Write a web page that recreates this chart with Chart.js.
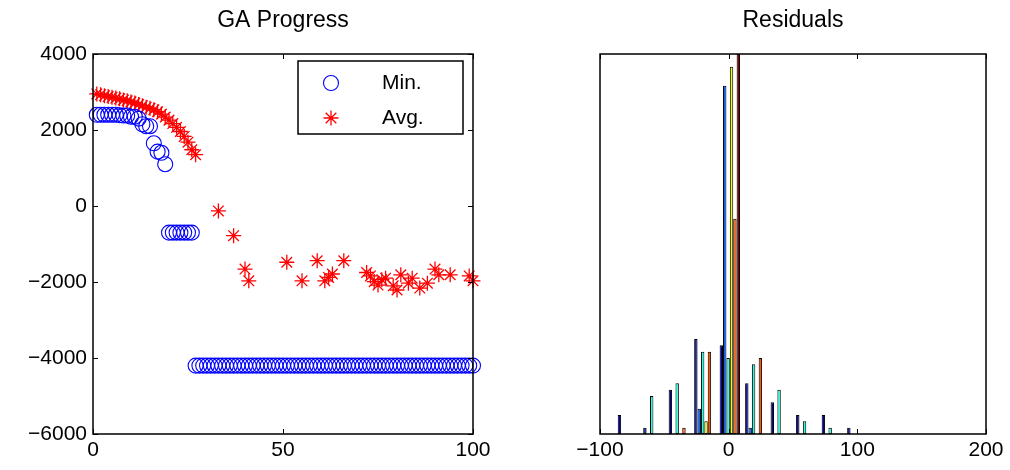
<!DOCTYPE html>
<html>
<head>
<meta charset="utf-8">
<script src="https://cdn.jsdelivr.net/npm/chart.js@4/dist/chart.umd.min.js"></script>
<style>
  body { margin: 0; background: #fff; }
  .box { position: absolute; top: 0; width: 505px; height: 470px; }
</style>
</head>
<body>
<div class="box" style="left:0"><canvas id="gaChart"></canvas></div>
<div class="box" style="left:505px"><canvas id="resChart"></canvas></div>
<script>
// GA progress: best (Min.) for generations 1..100
const minVals = [
  2400, 2400, 2400, 2400, 2400, 2400, 2390, 2380, 2380, 2350,
  2350, 2300, 2150, 2100, 2100, 1650, 1430, 1400, 1100, -700,
  -700, -700, -700, -700, -700, -700, -4200, -4200, -4200, -4200,
  -4200, -4200, -4200, -4200, -4200, -4200, -4200, -4200, -4200, -4200,
  -4200, -4200, -4200, -4200, -4200, -4200, -4200, -4200, -4200, -4200,
  -4200, -4200, -4200, -4200, -4200, -4200, -4200, -4200, -4200, -4200,
  -4200, -4200, -4200, -4200, -4200, -4200, -4200, -4200, -4200, -4200,
  -4200, -4200, -4200, -4200, -4200, -4200, -4200, -4200, -4200, -4200,
  -4200, -4200, -4200, -4200, -4200, -4200, -4200, -4200, -4200, -4200,
  -4200, -4200, -4200, -4200, -4200, -4200, -4200, -4200, -4200, -4200
];

// Avg. values that fall inside the plotted range
const avgGen = [
  1, 2, 3, 4, 5, 6, 7, 8, 9, 10, 11, 12, 13, 14, 15, 16, 17, 18, 19, 20,
  21, 22, 23, 24, 25, 26, 27, 33, 37, 40, 41, 51, 55, 59, 61, 62, 63, 66,
  72, 73, 74, 75, 76, 77, 79, 80, 81, 83, 84, 86, 88, 90, 91, 94, 99, 100
];
const avgVals = [
  2950, 2930, 2900, 2880, 2860, 2840, 2820, 2790, 2770, 2740,
  2710, 2670, 2640, 2600, 2570, 2530, 2480, 2420, 2340, 2260,
  2170, 2070, 1960, 1830, 1680, 1480, 1350, -130, -780, -1660,
  -1970, -1480, -1970, -1440, -1970, -1880, -1790, -1440,
  -1750, -1840, -1990, -2080, -1940, -1900, -2100, -2210, -1810, -2030,
  -1900, -2160, -2030, -1660, -1810, -1810, -1840, -1970
];

// Residuals histogram: 10 bins, 6 columns
const binCenters = [-78.3, -58.5, -38.7, -18.9, 0.9, 20.7, 40.5, 60.3, 80.2, 100.0];
const resCol1 = [3, 1, 7, 15, 14, 8, 5, 3, 3, 1];
const resCol2 = [0, 0, 0, 4, 55, 1, 0, 0, 0, 0];
const resCol3 = [0, 6, 8, 13, 12, 11, 7, 2, 1, 0];
const resCol4 = [0, 0, 0, 2, 58, 0, 0, 0, 0, 0];
const resCol5 = [0, 0, 1, 13, 34, 12, 0, 0, 0, 0];
const resCol6 = [0, 0, 0, 0, 60, 0, 0, 0, 0, 0];
const resColors = ["#000090", "#0060ff", "#20ffdf", "#efff10", "#ff5000", "#800000"];

const FONT = "'Liberation Sans', Arial, sans-serif";
const minus = v => String(v).replace("-", "\u2212");

// axes box with inward ticks, like the original
const frame = {
  id: "frame",
  afterDraw(chart, args, opts) {
    const { ctx, chartArea: a, scales } = chart;
    const len = 5;
    ctx.save();
    ctx.strokeStyle = "#000";
    ctx.lineWidth = 1;
    ctx.beginPath();
    scales.x.ticks.forEach(t => {
      const px = Math.round(scales.x.getPixelForValue(t.value)) + 0.5;
      ctx.moveTo(px, a.bottom); ctx.lineTo(px, a.bottom - len);
      ctx.moveTo(px, a.top); ctx.lineTo(px, a.top + len);
    });
    if (opts.yTicks) {
      scales.y.ticks.forEach(t => {
        const py = Math.round(scales.y.getPixelForValue(t.value)) + 0.5;
        ctx.moveTo(a.left, py); ctx.lineTo(a.left + len, py);
        ctx.moveTo(a.right, py); ctx.lineTo(a.right - len, py);
      });
    }
    ctx.stroke();
    ctx.lineWidth = 1.5;
    ctx.strokeRect(a.left, a.top, a.right - a.left, a.bottom - a.top);
    ctx.restore();
  }
};

// legend box inside the plot (top right)
const insideLegend = {
  id: "insideLegend",
  afterDraw(chart) {
    const { ctx, chartArea: a } = chart;
    const x0 = a.right - 175, y0 = a.top + 7, w = 165, h = 73;
    ctx.save();
    ctx.fillStyle = "#fff";
    ctx.fillRect(x0, y0, w, h);
    ctx.strokeStyle = "#000";
    ctx.lineWidth = 1.5;
    ctx.strokeRect(x0, y0, w, h);
    chart.data.datasets.forEach((ds, i) => {
      const y = y0 + 22 + i * 35;
      ctx.strokeStyle = ds.borderColor;
      ctx.fillStyle = "rgba(0,0,0,0)";
      ctx.lineWidth = ds.borderWidth;
      Chart.helpers.drawPoint(ctx, { pointStyle: ds.pointStyle, radius: ds.pointRadius, rotation: 0, borderWidth: ds.borderWidth }, x0 + 33, y);
      ctx.fillStyle = "#000";
      ctx.font = "21px " + FONT;
      ctx.textBaseline = "middle";
      ctx.fillText(ds.label, x0 + 84, y);
    });
    ctx.restore();
  }
};

document.addEventListener("DOMContentLoaded", function () {
  const titleOpts = text => ({
    display: true, text, color: "#000", fullSize: false,
    font: { family: FONT, size: 23, weight: "normal" },
    padding: { top: 7, bottom: 19.4 }
  });

  new Chart(document.getElementById("gaChart"), {
    type: "scatter",
    data: {
      datasets: [
        {
          label: "Min.",
          data: minVals.map((v, i) => ({ x: i + 1, y: v })),
          pointStyle: "circle", pointRadius: 7.5,
          borderColor: "#0000ff", backgroundColor: "rgba(0,0,0,0)", borderWidth: 1.1,
          clip: false
        },
        {
          label: "Avg.",
          data: avgGen.map((g, i) => ({ x: g, y: avgVals[i] })),
          pointStyle: "star", pointRadius: 7.5,
          borderColor: "#ff0000", backgroundColor: "#ff0000", borderWidth: 1.3,
          clip: false
        }
      ]
    },
    options: {
      responsive: true, maintainAspectRatio: false, animation: false,
      layout: { padding: { left: 0, right: 32, top: 0, bottom: 0 } },
      plugins: { legend: { display: false }, tooltip: { enabled: false }, title: titleOpts("GA Progress"), frame: { yTicks: true } },
      scales: {
        x: {
          type: "linear", min: 0, max: 100,
          ticks: { stepSize: 50, color: "#000", padding: 4, font: { family: FONT, size: 21 }, callback: minus, maxRotation: 0 },
          grid: { display: false, drawTicks: false }, border: { display: false },
          afterFit: s => { s.height = 36; }
        },
        y: {
          min: -6000, max: 4000,
          ticks: { stepSize: 2000, color: "#000", padding: 6, font: { family: FONT, size: 21 }, callback: minus },
          grid: { display: false, drawTicks: false }, border: { display: false },
          afterFit: s => { s.width = 93; }
        }
      }
    },
    plugins: [frame, insideLegend]
  });

  const cols = [resCol1, resCol2, resCol3, resCol4, resCol5, resCol6];
  new Chart(document.getElementById("resChart"), {
    type: "bar",
    data: {
      datasets: cols.map((c, i) => ({
        label: "col " + (i + 1),
        data: c.map((v, j) => ({ x: binCenters[j], y: v })),
        backgroundColor: resColors[i],
        borderColor: "#000", borderWidth: 1, borderSkipped: false
      }))
    },
    options: {
      responsive: true, maintainAspectRatio: false, animation: false,
      categoryPercentage: 0.8, barPercentage: 1,
      layout: { padding: { left: 95, right: 24, top: 0, bottom: 0 } },
      plugins: { legend: { display: false }, tooltip: { enabled: false }, title: titleOpts("Residuals"), frame: { yTicks: false } },
      scales: {
        x: {
          type: "linear", min: -100, max: 200, offset: false,
          ticks: { stepSize: 100, color: "#000", padding: 4, font: { family: FONT, size: 21 }, callback: minus, maxRotation: 0 },
          grid: { display: false, drawTicks: false }, border: { display: false },
          afterFit: s => { s.height = 36; }
        },
        y: { display: false, min: 0, max: 60 }
      }
    },
    plugins: [frame]
  });
});
</script>
</body>
</html>
